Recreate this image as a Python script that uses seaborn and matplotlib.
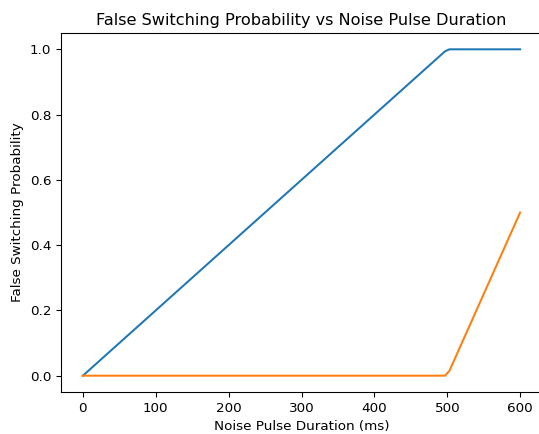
import matplotlib
matplotlib.use("Agg")
import matplotlib.pyplot as plt
import seaborn as sns
import pandas as pd

duration_ms = [0, 497, 503, 600]
prob_a = [0.0, 0.994, 1.0, 1.0]
prob_b = [0.0, 0.0, 0.015, 0.5]

s = 0.97
plt.rcParams.update({
    "font.size": 10 * s,
    "axes.titlesize": 12 * s,
    "axes.linewidth": 0.8 * s,
    "xtick.major.size": 3.5 * s,
    "ytick.major.size": 3.5 * s,
    "xtick.major.width": 0.8 * s,
    "ytick.major.width": 0.8 * s,
})

fig, ax = plt.subplots(figsize=(5.39, 4.34), dpi=100)
sns.lineplot(x=duration_ms, y=prob_a, ax=ax, color="#1f77b4", linewidth=1.5 * s)
sns.lineplot(x=duration_ms, y=prob_b, ax=ax, color="#ff7f0e", linewidth=1.5 * s)
ax.set_title("False Switching Probability vs Noise Pulse Duration")
ax.set_xlabel("Noise Pulse Duration (ms)")
ax.set_ylabel("False Switching Probability")
ax.set_xticks([0, 100, 200, 300, 400, 500, 600])
ax.set_yticks([0.0, 0.2, 0.4, 0.6, 0.8, 1.0])
fig.subplots_adjust(left=61/539, right=542/539, top=1 - 33/434, bottom=1 - 392/434)
fig.savefig("out.png", dpi=100)
